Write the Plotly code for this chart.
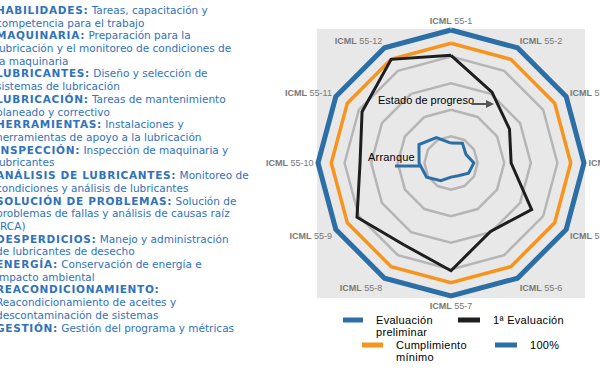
import plotly.graph_objects as go

# ---------------- data ----------------
categories = ["ICML 55-1", "ICML 55-2", "ICML 55-3", "ICML 55-4", "ICML 55-5", "ICML 55-6",
              "ICML 55-7", "ICML 55-8", "ICML 55-9", "ICML 55-10", "ICML 55-11", "ICML 55-12"]
evaluacion_preliminar = [0.75, 0.86, 0.65, 0.86, 0.76, 0.55, 0.53, 0.77, 1.06, 1.20, 1.39, 1.10]
primera_evaluacion = [4.05, 3.08, 2.54, 2.26, 3.50, 2.97, 4.05, 3.55, 4.08, 3.42, 3.86, 4.50]
cumplimiento_minimo = [4.5] * 12
cien_por_ciento = [5.0] * 12
grid_levels = [1, 2, 3, 4]

series_names = ["Evaluación preliminar", "1ª Evaluación", "Cumplimiento mínimo", "100%"]

left_lines = [
    ("HABILIDADES:", " Tareas, capacitación y"),
    ("", "competencia para el trabajo"),
    ("MAQUINARIA:", " Preparación para la"),
    ("", "lubricación y el monitoreo de condiciones de"),
    ("", "la maquinaria"),
    ("LUBRICANTES:", " Diseño y selección de"),
    ("", "sistemas de lubricación"),
    ("LUBRICACIÓN:", " Tareas de mantenimiento"),
    ("", "planeado y correctivo"),
    ("HERRAMIENTAS:", " Instalaciones y"),
    ("", "herramientas de apoyo a la lubricación"),
    ("INSPECCIÓN:", " Inspección de maquinaria y"),
    ("", "lubricantes"),
    ("ANÁLISIS DE LUBRICANTES:", " Monitoreo de"),
    ("", "condiciones y análisis de lubricantes"),
    ("SOLUCIÓN DE PROBLEMAS:", " Solución de"),
    ("", "problemas de fallas y análisis de causas raíz"),
    ("", "(RCA)"),
    ("DESPERDICIOS:", " Manejo y administración"),
    ("", "de lubricantes de desecho"),
    ("ENERGÍA:", " Conservación de energía e"),
    ("", "impacto ambiental"),
    ("REACONDICIONAMIENTO:", ""),
    ("", "Reacondicionamiento de aceites y"),
    ("", "descontaminación de sistemas"),
    ("GESTIÓN:", " Gestión del programa y métricas"),
]

# ---------------- styling ----------------
W, H = 600, 368
BLUE = "#2c6ea6"
ORANGE = "#f7941e"
BLACK = "#1e1e1e"
GRID = "#b5b5b5"
BG = "#e8e8e8"
TEXT_BLUE = "#2f72bd"
LEFT_FONT = "DejaVu Sans, Verdana, sans-serif"


def px(x):
    return x / W


def py(y):
    return 1 - y / H


def closed(v):
    return list(v) + [v[0]]


theta = closed(categories)

fig = go.Figure()
fig.add_trace(go.Scatterpolar(r=closed(cien_por_ciento), theta=theta, mode="lines",
                              line=dict(color=BLUE, width=5), name=series_names[3]))
fig.add_trace(go.Scatterpolar(r=closed(cumplimiento_minimo), theta=theta, mode="lines",
                              line=dict(color=ORANGE, width=3.5), name=series_names[2]))
fig.add_trace(go.Scatterpolar(r=closed(primera_evaluacion), theta=theta, mode="lines",
                              line=dict(color=BLACK, width=3), name=series_names[1]))
fig.add_trace(go.Scatterpolar(r=closed(evaluacion_preliminar), theta=theta, mode="lines",
                              line=dict(color=BLUE, width=3), name=series_names[0]))

# polar geometry: centre (451,163), radius for r=5 -> 133 px
cx, cy, unit = 451, 163, 26.6
rmax = 5.15
R = rmax * unit

ticktext = ["<b>ICML</b> " + c.split(" ", 1)[1] for c in categories]

fig.update_layout(
    width=W, height=H,
    margin=dict(l=0, r=0, t=0, b=0),
    paper_bgcolor="white",
    showlegend=False,
    polar=dict(
        domain=dict(x=[px(cx - R), px(cx + R)], y=[py(cy + R), py(cy - R)]),
        bgcolor="rgba(0,0,0,0)",
        gridshape="linear",
        radialaxis=dict(range=[0, rmax], tickmode="array", tickvals=grid_levels,
                        showticklabels=False, ticks="", showline=False,
                        gridcolor=GRID, gridwidth=2.5),
        angularaxis=dict(direction="clockwise", rotation=90, showgrid=False,
                         showline=False, ticks="", tickmode="array",
                         tickvals=categories, ticktext=ticktext,
                         tickfont=dict(family="Liberation Sans, Arial", size=9, color="#787878")),
    ),
)

shapes = [dict(type="rect", xref="paper", yref="paper", x0=px(317), x1=px(585),
               y0=py(298), y1=py(29), fillcolor=BG, line=dict(width=0), layer="below")]

annotations = []

# left descriptive list
for i, (head, body) in enumerate(left_lines):
    y = 10 + i * 12.7
    txt = ""
    if head:
        txt += f"<b><span style='letter-spacing:0.7px'>{head}</span></b>"
    txt += body
    annotations.append(dict(x=0, y=py(y), xref="paper", yref="paper", xanchor="left",
                            yanchor="middle", xshift=-6, showarrow=False, text=txt,
                            font=dict(family=LEFT_FONT, size=10.5, color=TEXT_BLUE)))

# callouts
annotations.append(dict(x=px(376), y=py(100), xref="paper", yref="paper", xanchor="left",
                        yanchor="middle", showarrow=False,
                        text="Estado de progreso",
                        font=dict(family="Liberation Sans, Arial", size=11, color="black")))
annotations.append(dict(x=px(494), y=py(104), xref="paper", yref="paper", text="",
                        showarrow=True, ax=-24, ay=0, arrowhead=2, arrowsize=0.8,
                        arrowwidth=2, arrowcolor="#555555"))
annotations.append(dict(x=px(366), y=py(157), xref="paper", yref="paper", xanchor="left",
                        yanchor="middle", showarrow=False,
                        text="<span style='letter-spacing:0.2px'>Arranque</span>",
                        font=dict(family="Liberation Sans, Arial", size=11, color="black")))
shapes.append(dict(type="line", xref="paper", yref="paper", x0=px(395), x1=px(420),
                   y0=py(166), y1=py(166), line=dict(color=BLUE, width=3)))

# manual legend
legend_items = [
    (series_names[0], BLUE, 343, 363, 320, ["Evaluación", "preliminar"]),
    (series_names[1], BLACK, 458, 480, 320, ["1ª Evaluación"]),
    (series_names[2], ORANGE, 362, 383, 345, ["Cumplimiento", "mínimo"]),
    (series_names[3], BLUE, 495, 517, 345, ["100%"]),
]
for name, col, x0, x1, yy, lines in legend_items:
    shapes.append(dict(type="line", xref="paper", yref="paper", x0=px(x0), x1=px(x1),
                       y0=py(yy), y1=py(yy), line=dict(color=col, width=5)))
    for j, ln in enumerate(lines):
        annotations.append(dict(x=px(x1 + 11), y=py(yy + j * 11.5), xref="paper", yref="paper",
                                xanchor="left", yanchor="middle", showarrow=False,
                                text=f"<span style='letter-spacing:0.3px'>{ln}</span>",
                                font=dict(family="Liberation Sans, Arial", size=11, color="black")))

fig.update_layout(shapes=shapes, annotations=annotations)
fig.write_html("out.html",
               config={"displayModeBar": False, "staticPlot": True},
               post_script="document.body.style.margin='0px';document.body.style.overflow='hidden';")
